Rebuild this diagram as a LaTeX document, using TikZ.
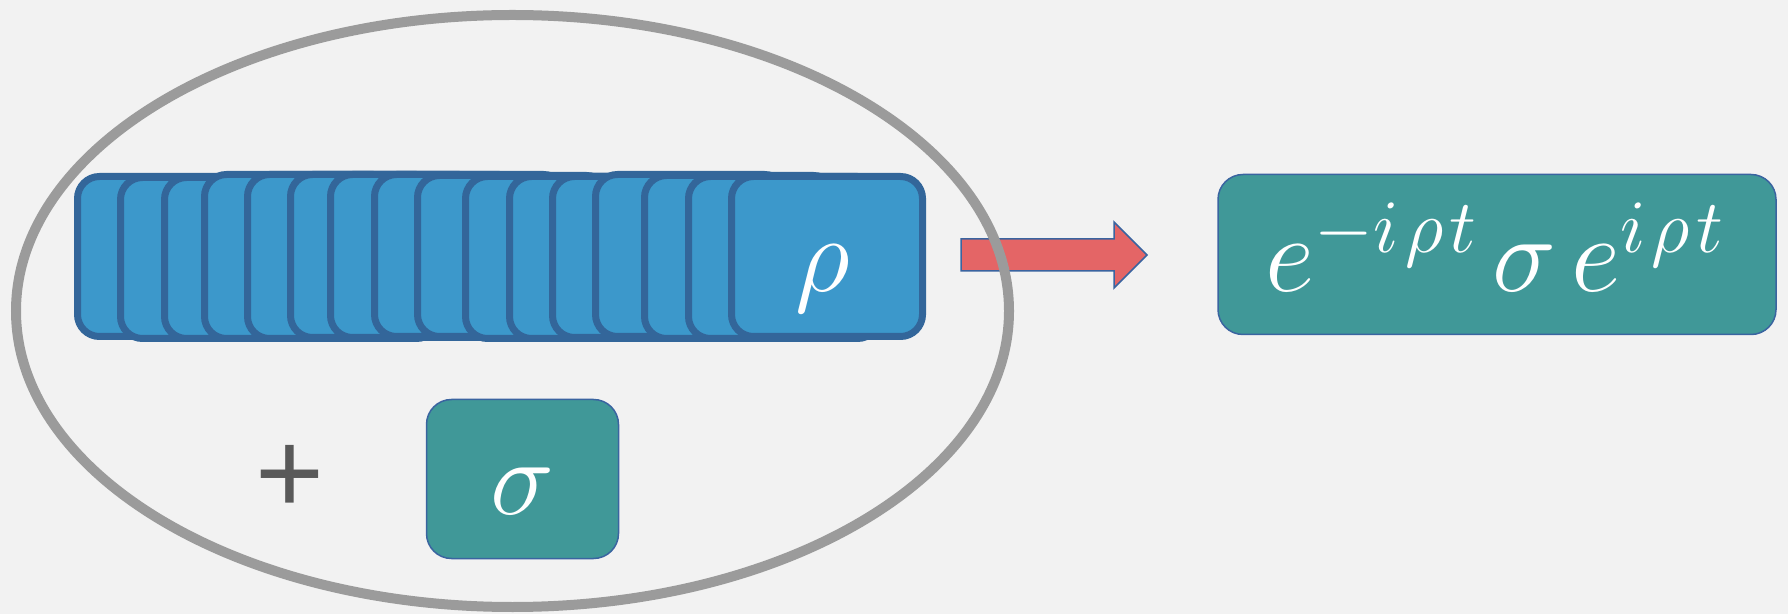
\documentclass[tikz,border=0pt]{standalone}
\usepackage{fix-cm}
\usepackage{fontspec}
\newfontfamily\plusfont{Liberation Sans}
\definecolor{bg}{HTML}{F2F2F2}
\definecolor{stackfill}{HTML}{3C98CB}
\definecolor{stackline}{HTML}{33669A}
\definecolor{tealfill}{HTML}{409898}
\definecolor{tealline}{HTML}{3A64A0}
\definecolor{arrowfill}{HTML}{E46566}
\definecolor{ellgray}{HTML}{9B9B9B}
\definecolor{plusgray}{HTML}{595959}
\tikzset{
  stackbox/.style={draw=stackline, fill=stackfill, line width=3.5pt, rounded corners=11pt,
    minimum width=95.5pt, inner sep=0pt},
  tealbox/.style={draw=tealline, fill=tealfill, line width=0.75pt, rounded corners=12.5pt, inner sep=0pt},
  mathtxt/.style={text=white, font=\fontsize{54}{60}\selectfont, inner sep=0pt},
  blockarrow/.style={draw=tealline, fill=arrowfill, line width=0.75pt},
  ringline/.style={draw=ellgray, line width=5pt}
}
\begin{document}
\begin{tikzpicture}[x=0.5pt,y=-0.5pt]
\fill[bg] (0,0) rectangle (1788,614);
\useasboundingbox (0,0) rectangle (1788,614);
% stack of rho boxes
\foreach \l/\t/\b [count=\i] in {74/173/340, 117/174/342, 161/174/342, 201/171/342,
  244/171/342, 287/171/341, 327/171/341, 371/171/340, 414/172/340, 462/173/342,
  506/173/342, 549/173/341, 592/171/340, 641/172/342, 685/173/342, 728/173/340} {
  \node[stackbox, minimum height={(\b-\t-7)*0.5pt}] (s\i) at ({\l+99},{(\t+\b)/2}) {};
}
\node[mathtxt, anchor=base] (rho) at (823,292) {$\rho$};
% sigma box and plus
\node[tealbox, minimum width=96pt, minimum height=79.5pt] (sig) at (522.5,479) {};
\node[mathtxt, anchor=base] (sigtxt) at (522,514) {$\sigma$};
\node[text=plusgray, font=\plusfont\fontsize{59}{62}\selectfont, inner sep=0pt] (plus) at (290,479) {+};
% block arrow
\draw[blockarrow] (961,239) -- (1114,239) -- (1114,222) -- (1147,255) -- (1114,288) -- (1114,271) -- (961,271) -- cycle;
% ellipse
\draw[ringline] (512.5,311) ellipse [x radius=248.25pt, y radius=148pt];
% result box
\node[tealbox, minimum width=279pt, minimum height=80pt] (res) at (1497,254.5) {};
\node[mathtxt, anchor=base] (formula) at (1495,292)
  {$e^{-i\mkern1.5mu\rho\mkern1.5mu t}\mkern2.5mu\sigma\mkern2.5mu e^{i\mkern1.5mu\rho\mkern1.5mu t}$};
\end{tikzpicture}
\end{document}
